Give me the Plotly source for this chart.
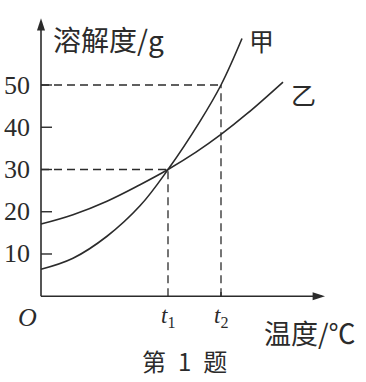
import plotly.graph_objects as go

# ---- data (x in arbitrary temperature units, y in g) ----
jia_x = [0, 3.2, 6.6, 9.9, 12.7, 15.9, 18.0, 20.1]
jia_y = [6.4, 9.0, 14.2, 21.4, 30, 41.4, 50, 61.0]
yi_x = [0, 3.2, 6.6, 9.9, 12.7, 15.5, 18.0, 20.6, 24.2]
yi_y = [17.1, 19.3, 22.5, 26.4, 30, 34.1, 38.3, 43.2, 50.7]
y_ticks = [10, 20, 30, 40, 50]
t1, t2 = 12.7, 18.0
x_end, y_end = 28.9, 67.3

INK = "#2b2b2b"
SERIF = "Liberation Serif, DejaVu Serif, serif"
CJK = "Noto Sans CJK SC, sans-serif"

fig = go.Figure()
fig.add_trace(go.Scatter(x=jia_x, y=jia_y, mode="lines",
                         line=dict(color=INK, width=1.6, shape="spline", smoothing=1.1), hoverinfo="skip"))
fig.add_trace(go.Scatter(x=yi_x, y=yi_y, mode="lines",
                         line=dict(color=INK, width=1.6, shape="spline", smoothing=1.1), hoverinfo="skip"))
# arrowheads as markers at the axis ends
fig.add_trace(go.Scatter(x=[x_end - 0.5, 0], y=[0, y_end - 1.5], mode="markers",
                         marker=dict(symbol="arrow", angle=[90, 0], size=13, color=INK,
                                     line=dict(width=0)), hoverinfo="skip"))

shapes = []
# axes
shapes.append(dict(type="line", x0=0, y0=0, x1=x_end - 0.8, y1=0, line=dict(color=INK, width=1.6)))
shapes.append(dict(type="line", x0=0, y0=0, x1=0, y1=y_end - 2.5, line=dict(color=INK, width=1.6)))
# y ticks
for v in y_ticks:
    shapes.append(dict(type="line", x0=0, y0=v, x1=1.1, y1=v, line=dict(color=INK, width=1.4)))
# x tick at t2
shapes.append(dict(type="line", x0=t2, y0=0, x1=t2, y1=1.0, line=dict(color=INK, width=1.4)))
# dashed guides
dash = "8px,5px"
shapes.append(dict(type="line", x0=0, y0=50, x1=t2, y1=50, line=dict(color=INK, width=1.3, dash=dash)))
shapes.append(dict(type="line", x0=0, y0=30, x1=t1, y1=30, line=dict(color=INK, width=1.3, dash=dash)))
shapes.append(dict(type="line", x0=t1, y0=0, x1=t1, y1=30, line=dict(color=INK, width=1.3, dash=dash)))
shapes.append(dict(type="line", x0=t2, y0=0, x1=t2, y1=50, line=dict(color=INK, width=1.3, dash=dash)))

ann = []
for v in y_ticks:
    ann.append(dict(x=-0.9, y=v, text=str(v), showarrow=False, xanchor="right", yanchor="middle",
                    font=dict(family=SERIF, size=26, color=INK)))
ann.append(dict(x=1.0, y=y_end - 6.5, text="溶解度/g", showarrow=False, xanchor="left", yanchor="middle",
                font=dict(family=CJK, size=28, color=INK)))
ann.append(dict(x=22.0, y=60.7, text="甲", showarrow=False, xanchor="center", yanchor="middle",
                font=dict(family=CJK, size=25, color=INK)))
ann.append(dict(x=26.2, y=47.8, text="乙", showarrow=False, xanchor="center", yanchor="middle",
                font=dict(family=CJK, size=25, color=INK)))
ann.append(dict(x=-1.4, y=-5.0, text="<i>O</i>", showarrow=False, xanchor="center", yanchor="middle",
                font=dict(family=SERIF, size=26, color=INK)))
ann.append(dict(x=t1, y=-5.0, text="<i>t</i><sub>1</sub>", showarrow=False, xanchor="center", yanchor="middle",
                font=dict(family=SERIF, size=23, color=INK)))
ann.append(dict(x=t2, y=-5.0, text="<i>t</i><sub>2</sub>", showarrow=False, xanchor="center", yanchor="middle",
                font=dict(family=SERIF, size=23, color=INK)))
ann.append(dict(x=22.1, y=-8.6, text="温度/℃", showarrow=False, xanchor="left", yanchor="middle",
                font=dict(family=CJK, size=27, color=INK)))
ann.append(dict(x=14.3, y=-15.3, text="第\u20021\u2002题", showarrow=False, xanchor="center", yanchor="middle",
                font=dict(family=CJK, size=24, color=INK)))

fig.update_layout(
    width=366, height=382,
    margin=dict(l=0, r=0, t=0, b=0),
    paper_bgcolor="white", plot_bgcolor="white",
    showlegend=False,
    xaxis=dict(range=[-4.1, 32.5], visible=False, fixedrange=True),
    yaxis=dict(range=[-20.3, 70.12], visible=False, fixedrange=True),
    shapes=shapes, annotations=ann,
)
fig.write_html("out.html")
